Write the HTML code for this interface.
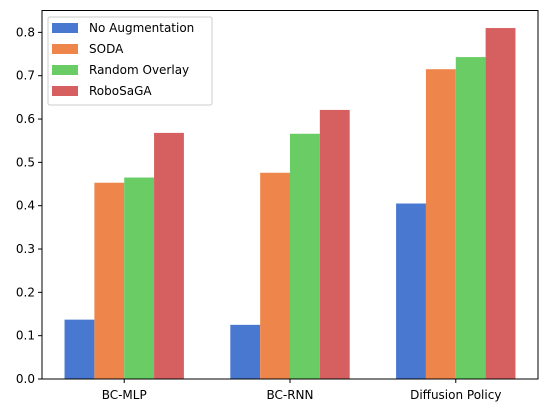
<!DOCTYPE html>
<html><head><meta charset="utf-8"><style>
body{margin:0;background:#fff;}
svg{display:block;font-family:"DejaVu Sans","Liberation Sans",sans-serif;}
</style></head><body>
<svg id="chart" width="547" height="413"></svg>
<script>
const categories = ["BC-MLP", "BC-RNN", "Diffusion Policy"];
const seriesNames = ["No Augmentation", "SODA", "Random Overlay", "RoboSaGA"];
const noAugmentation = [0.137, 0.125, 0.405];
const soda = [0.453, 0.476, 0.715];
const randomOverlay = [0.465, 0.566, 0.743];
const roboSaGA = [0.568, 0.621, 0.810];
const yTicks = [0.0, 0.1, 0.2, 0.3, 0.4, 0.5, 0.6, 0.7, 0.8];

const colors = ["#4878d0", "#ee854a", "#6acc64", "#d65f5f"];
const series = [noAugmentation, soda, randomOverlay, roboSaGA];
const NS = "http://www.w3.org/2000/svg";
const svg = document.getElementById("chart");
const L = 42, R = 538, T = 10.5, B = 379;
const barW = 0.18;
const xmin = -2 * barW - 0.136, xmax = categories.length - 1 + 2 * barW + 0.136;
const ymax = Math.max(...roboSaGA, ...soda, ...randomOverlay, ...noAugmentation) * 1.05;
const xs = v => L + (v - xmin) / (xmax - xmin) * (R - L);
const ys = v => B - v / ymax * (B - T);
function el(tag, attrs, parent) {
  const e = document.createElementNS(NS, tag);
  for (const k in attrs) e.setAttribute(k, attrs[k]);
  (parent || svg).appendChild(e);
  return e;
}
series.forEach((vals, s) => {
  const g = el("g", {});
  
  
  vals.forEach((v, i) => {
    const x0 = xs(i + (s - 2) * barW), x1 = xs(i + (s - 1) * barW);
    const r = el("rect", {x: x0, y: ys(v), width: x1 - x0, height: B - ys(v), fill: colors[s]}, g);
    
    
  });
});
const frame = el("rect", {x: L, y: T, width: R - L, height: B - T, fill: "none", stroke: "#000", "stroke-width": 1});


yTicks.forEach(t => {
  const y = ys(t);
  el("line", {x1: L - 4, x2: L, y1: y, y2: y, stroke: "#000"});
  const tx = el("text", {x: L - 7, y: y + 4, "text-anchor": "end", "font-size": 12}, svg);
  tx.textContent = t.toFixed(1);
  
  
});
categories.forEach((c, i) => {
  const x = xs(i);
  el("line", {x1: x, x2: x, y1: B, y2: B + 4, stroke: "#000"});
  const tx = el("text", {x: x, y: B + 20, "text-anchor": "middle", "font-size": 12});
  tx.textContent = c;
  
  
});
const lg = el("g", {});


el("rect", {x: 48, y: 17, width: 164, height: 88, rx: 2, fill: "#fff", "fill-opacity": 0.8, stroke: "#ccc"}, lg);
seriesNames.forEach((n, s) => {
  const y = 28 + s * 21;
  el("rect", {x: 52, y: y - 5, width: 26, height: 10, fill: colors[s]}, lg);
  const tx = el("text", {x: 89, y: y + 4, "font-size": 12}, lg);
  tx.textContent = n;
  
  
});
</script>
</body></html>
